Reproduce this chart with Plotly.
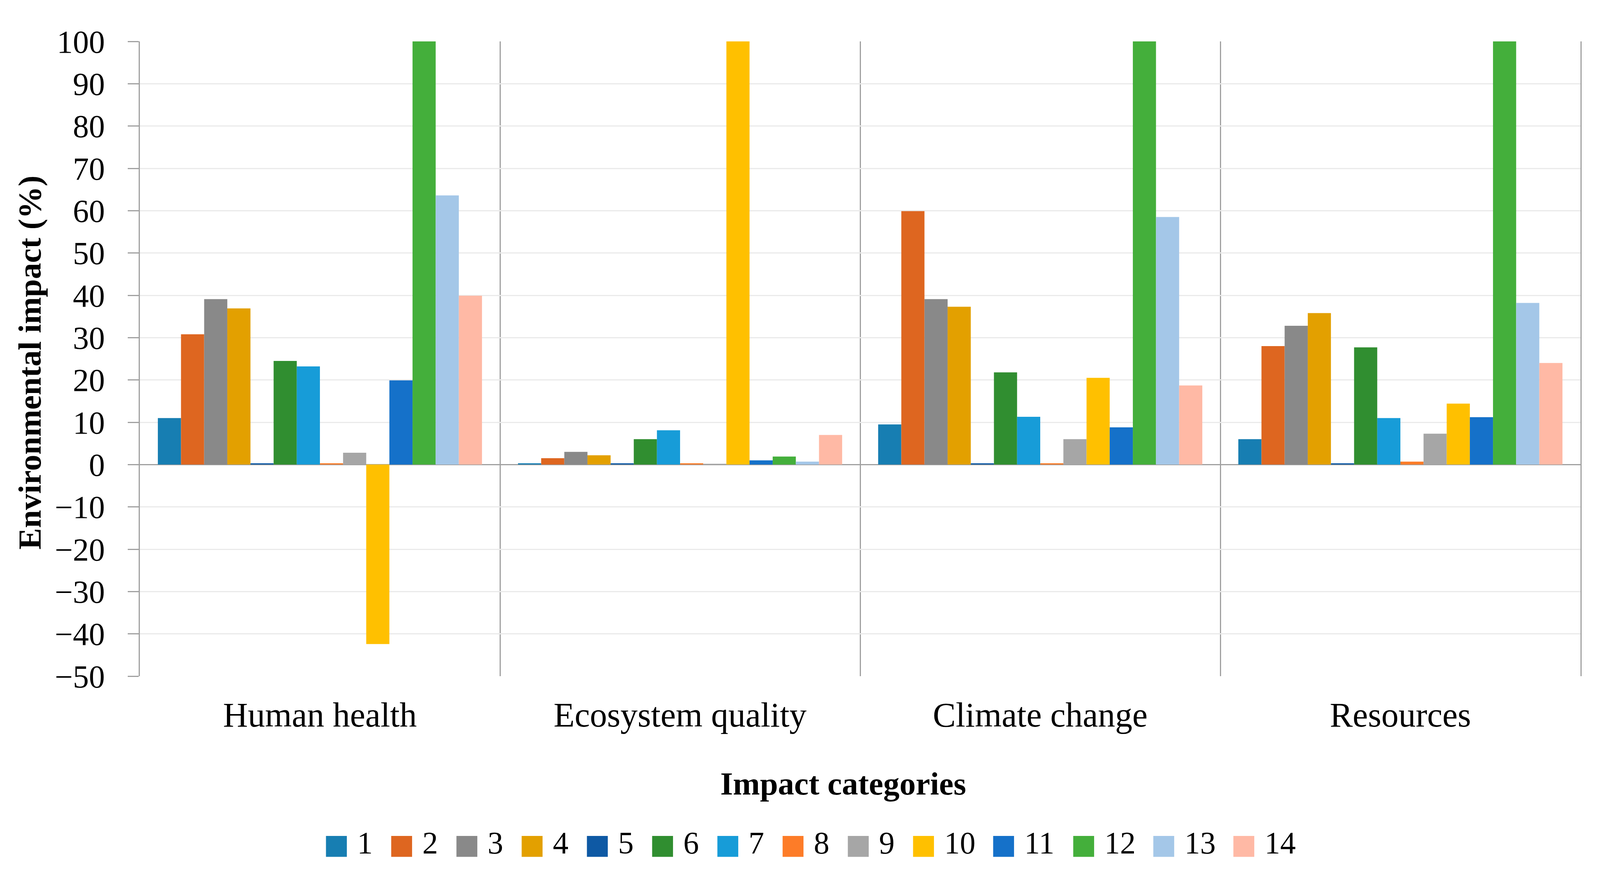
import plotly.graph_objects as go

categories = ["Human health", "Ecosystem quality", "Climate change", "Resources"]
series_names = [str(i) for i in range(1, 15)]

s1 = [11.0, 0.3, 9.5, 6.0]
s2 = [30.8, 1.5, 59.9, 28.0]
s3 = [39.1, 3.0, 39.1, 32.8]
s4 = [36.9, 2.2, 37.3, 35.8]
s5 = [0.3, 0.3, 0.3, 0.3]
s6 = [24.5, 6.0, 21.8, 27.7]
s7 = [23.2, 8.1, 11.3, 11.0]
s8 = [0.3, 0.3, 0.3, 0.7]
s9 = [2.8, 0.2, 6.0, 7.3]
s10 = [-42.4, 100.0, 20.5, 14.4]
s11 = [19.9, 1.0, 8.8, 11.2]
s12 = [100.0, 1.9, 100.0, 100.0]
s13 = [63.6, 0.7, 58.5, 38.2]
s14 = [39.9, 7.0, 18.7, 24.0]

values = [s1, s2, s3, s4, s5, s6, s7, s8, s9, s10, s11, s12, s13, s14]

colors = ["#177EB2", "#DE6620", "#898989", "#E3A000", "#0E59A4", "#308E30", "#179CD8",
          "#FD7C28", "#A6A6A6", "#FFC000", "#1571C9", "#44AF3B", "#A4C7E8", "#FFB9A5"]

y_ticks = list(range(-50, 101, 10))

FONT = "Liberation Serif"
W, H = 4113, 2240
ML, MR, MT, MB = 350, 75, 98, 517
PW = W - ML - MR
PH = H - MT - MB


def px_x(x):
    return (x - ML) / PW


def px_y(y):
    return (MT + PH - y) / PH


fig = go.Figure()
for name, vals, col in zip(series_names, values, colors):
    fig.add_trace(go.Bar(name=name, x=categories, y=vals, showlegend=False,
                         marker=dict(color=col, line=dict(width=0))))

annotations = [
    dict(text="<b>Environmental impact (%)</b>", xref="paper", yref="paper",
         x=px_x(68), y=px_y(920), xanchor="center", yanchor="middle",
         textangle=-90, showarrow=False, font=dict(size=83)),
    dict(text="<b>Impact categories</b>", xref="paper", yref="paper",
         x=px_x(2150), y=px_y(1998), xanchor="center", yanchor="middle",
         showarrow=False, font=dict(size=83)),
]
# legend entries: coloured swatch + series label
x_px = 818
leg_y = px_y(2150)
for name, col in zip(series_names, colors):
    annotations.append(dict(
        text=f'<span style="color:{col};font-family:DejaVu Sans;font-size:70px">■</span> {name}',
        xref="paper", yref="paper", x=px_x(x_px), y=leg_y,
        xanchor="left", yanchor="middle", showarrow=False, font=dict(size=80)))
    x_px += 167 if len(name) == 1 else 205

fig.update_layout(
    width=W, height=H,
    barmode="group", bargap=0.1, bargroupgap=0,
    plot_bgcolor="white", paper_bgcolor="white",
    margin=dict(l=ML, r=MR, t=MT, b=MB, autoexpand=False),
    font=dict(family=FONT, size=80, color="black"),
    showlegend=False,
    xaxis=dict(type="category", tickson="boundaries", ticks="", showgrid=True,
               gridcolor="#A0A0A0", gridwidth=3, ticklabelstandoff=40,
               automargin=False, tickfont=dict(size=88)),
    yaxis=dict(range=[-50, 100], tickvals=y_ticks, showgrid=True, gridcolor="#EAEAEA", gridwidth=3,
               zeroline=True, zerolinecolor="#A0A0A0", zerolinewidth=3,
               showline=True, mirror=True, linecolor="#A0A0A0", linewidth=3,
               ticks="outside", ticklen=28, tickwidth=3, tickcolor="#A0A0A0",
               ticklabelstandoff=42, automargin=False, tickfont=dict(size=82)),
    annotations=annotations,
)

fig.write_html("out.html")
